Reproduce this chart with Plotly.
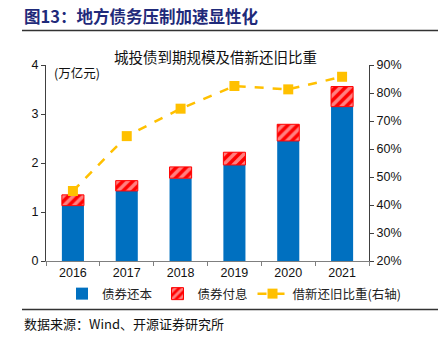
import plotly.graph_objects as go

years = ["2016", "2017", "2018", "2019", "2020", "2021"]
principal = [1.13, 1.43, 1.69, 1.96, 2.45, 3.15]
interest = [0.22, 0.21, 0.23, 0.26, 0.34, 0.41]
refinance_ratio = [0.45, 0.646, 0.744, 0.825, 0.813, 0.858]

W, H = 438, 354
L, R, T, B = 46, 369, 65, 261

fig = go.Figure()
fig.add_trace(go.Bar(
    x=years, y=principal, name="债券还本",
    marker=dict(color="#0070C0", line=dict(width=0)),
    yaxis="y", offsetgroup="a",
))
fig.add_trace(go.Bar(
    x=years, y=interest, name="债券付息", base=principal,
    marker=dict(color="#FF0000", line=dict(color="#FF0000", width=1),
                pattern=dict(shape="/", fgcolor="white", bgcolor="#FF0000",
                             size=7, solidity=0.5)),
    yaxis="y", offsetgroup="a",
))
fig.add_trace(go.Scatter(
    x=years, y=refinance_ratio, name="借新还旧比重(右轴)",
    mode="lines+markers",
    line=dict(color="#FFC000", width=2.5, dash="dash"),
    marker=dict(symbol="square", size=10, color="#FFC000"),
    yaxis="y2",
))

cjk = "Noto Sans CJK SC"
num = "Liberation Sans"

fig.update_layout(
    width=W, height=H,
    margin=dict(l=L, r=W - R, t=T, b=H - B, autoexpand=False),
    paper_bgcolor="white", plot_bgcolor="white",
    barmode="overlay", bargap=0.59,
    showlegend=True,
    legend=dict(orientation="h", x=(406 - L) / (R - L), xanchor="right", xref="paper",
                y=(B - 294) / (B - T), yref="paper", yanchor="middle",
                font=dict(family=cjk, size=12.5, color="#222"),
                itemwidth=30, tracegroupgap=0, traceorder="normal",
                bgcolor="rgba(0,0,0,0)"),
    xaxis=dict(type="category", showline=True, linecolor="#7f7f7f", linewidth=1,
               ticks="outside", tickson="boundaries", ticklen=4, tickcolor="#7f7f7f",
               tickfont=dict(family=num, size=12.5, color="#111"),
               showgrid=False, zeroline=False),
    yaxis=dict(range=[0, 4], dtick=1, showline=True, linecolor="#404040", linewidth=1,
               ticks="outside", ticklen=4, tickcolor="#404040",
               tickfont=dict(family=num, size=12.5, color="#111"),
               showgrid=False, zeroline=False),
    yaxis2=dict(range=[0.2, 0.9], dtick=0.1, tickformat=".0%", overlaying="y", side="right",
                showline=True, linecolor="#404040", linewidth=1,
                ticks="outside", ticklen=4, tickcolor="#404040",
                tickfont=dict(family=num, size=12.5, color="#111"),
                showgrid=False, zeroline=False),
)

fig.add_annotation(text="<b>图13：地方债务压制加速显性化</b>", xref="paper", yref="paper",
                   x=(22 - L) / (R - L), y=(B - 16) / (B - T), xanchor="left", yanchor="middle",
                   showarrow=False, font=dict(family=cjk, size=16.5, color="#1F2A7A"))
fig.add_annotation(text="城投债到期规模及借新还旧比重", xref="paper", yref="paper",
                   x=(215 - L) / (R - L), y=(B - 56) / (B - T), xanchor="center", yanchor="middle",
                   showarrow=False, font=dict(family=cjk, size=14.5, color="#111"))
fig.add_annotation(text="(万亿元)", xref="paper", yref="paper",
                   x=(52 - L) / (R - L), y=(B - 72) / (B - T), xanchor="left", yanchor="middle",
                   showarrow=False, font=dict(family=cjk, size=12.5, color="#111"))
fig.add_annotation(text="数据来源：Wind、开源证券研究所", xref="paper", yref="paper",
                   x=(22 - L) / (R - L), y=(B - 323) / (B - T), xanchor="left", yanchor="middle",
                   showarrow=False, font=dict(family=cjk, size=13, color="#111"))

for yy in (30.5, 309.5):
    fig.add_shape(type="line", xref="paper", yref="paper",
                  x0=(22 - L) / (R - L), x1=(438 - L) / (R - L),
                  y0=(B - yy) / (B - T), y1=(B - yy) / (B - T),
                  line=dict(color="#333", width=1.5))

fig.write_html("out.html")
